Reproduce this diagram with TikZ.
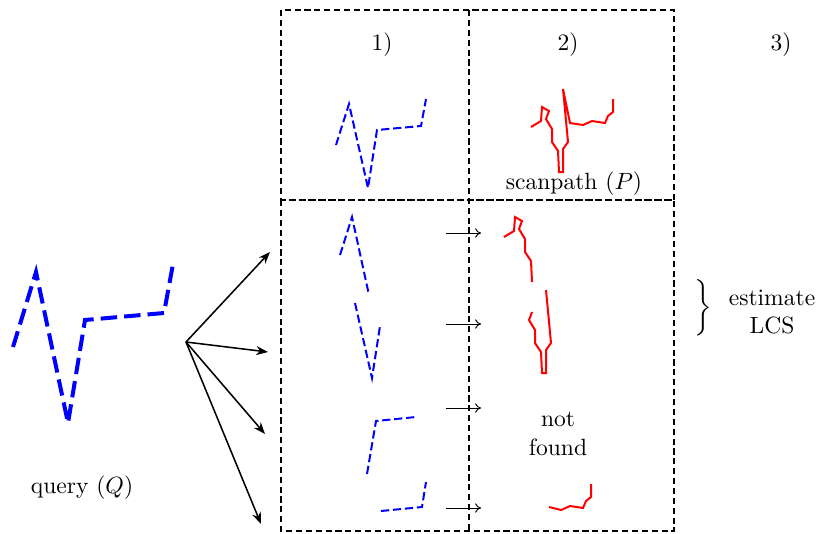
\documentclass[tikz,border=0pt]{standalone}
\usetikzlibrary{arrows.meta}
\begin{document}
\begin{tikzpicture}[x=0.425pt,y=-0.425pt,
  boxline/.style={draw=black,line width=0.85pt,dash pattern=on 2.6pt off 1.6pt},
  qbig/.style={draw=blue,line width=1.7pt,dash pattern=on 7pt off 3pt,line join=miter},
  qsmall/.style={draw=blue,line width=0.85pt,dash pattern=on 3.5pt off 1.6pt,line join=miter},
  scan/.style={draw=red,line width=0.85pt,line join=miter},
  bigarrow/.style={draw=black,line width=0.65pt,-{Stealth[length=5pt,width=3.8pt]}},
  smallarrow/.style={draw=black,line width=0.4pt,-{To[length=2.5pt,width=4pt]}},
  lbl/.style={inner sep=0pt,align=center}]
\useasboundingbox (0,0) rectangle (818,533);
% boxes
\draw[boxline] (281,10) rectangle (674,200);
\draw[boxline] (281,200) rectangle (674,531);
\draw[boxline] (469,10) -- (469,531);
% labels
\node[lbl] (l1) at (382,45) {1)};
\node[lbl] (l2) at (568,45) {2)};
\node[lbl] (l3) at (781,45) {3)};
\node[lbl] (scanlbl) at (574,184) {scanpath ($P$)};
\node[lbl] (querylbl) at (82,488) {query ($Q$)};
\node[lbl] (notfound) at (558,434) {not\\found};
\node[lbl] (brace) at (703,308) {$\bigg\}$};
\node[lbl] (lcs) at (772,312) {estimate\\LCS};
% big query
\draw[qbig] (13,347) -- (36,272) -- (68,423) -- (85,320) -- (164,313) -- (173,264);
% small query top
\draw[qsmall] (336,145) -- (349,104) -- (368,188) -- (377,130) -- (421,126) -- (426,99);
% query segments
\draw[qsmall] (340,255) -- (352,217) -- (369,295);
\draw[qsmall] (355,303) -- (372,378) -- (380,326);
\draw[qsmall] (367,474) -- (376,421) -- (416,417);
\draw[qsmall] (381,511) -- (422,507) -- (426,482);
% scanpath P
\draw[scan] (531,127) -- (541,121) -- (542,107) -- (549,111) -- (546,119) -- (552,129) -- (552,142) -- (558,151) -- (559,172) -- (563,172) -- (563,149) -- (568,142) -- (563,89) -- (570,123) -- (583,125) -- (592,121) -- (605,123) -- (608,116) -- (613,112) -- (613,99);
% found segments
\begin{scope}[shift={(-27,110)}]
\draw[scan] (531,127) -- (541,121) -- (542,107) -- (549,111) -- (546,119) -- (552,129) -- (552,142) -- (558,151) -- (559,172);
\end{scope}
\begin{scope}[shift={(-17,201)}]
\draw[scan] (549,111) -- (546,119) -- (552,129) -- (552,142) -- (558,151) -- (559,172) -- (563,172) -- (563,149) -- (568,142) -- (563,89);
\end{scope}
\begin{scope}[shift={(-22,385)}]
\draw[scan] (571,122) -- (583,125) -- (592,121) -- (605,123) -- (608,116) -- (613,112) -- (613,99);
\end{scope}
% big arrows
\coordinate (src) at (186,342);
\coordinate (t1) at (270,252);
\coordinate (t2) at (268,352);
\coordinate (t3) at (265,434);
\coordinate (t4) at (261,524);
\draw[bigarrow] (src) -- (t1);
\draw[bigarrow] (src) -- (t2);
\draw[bigarrow] (src) -- (t3);
\draw[bigarrow] (src) -- (t4);
% small arrows
\foreach \i/\y in {1/233,2/324,3/408,4/508}{
  \coordinate (s\i) at (446,\y);
  \coordinate (e\i) at (481,\y);
  \draw[smallarrow] (s\i) -- (e\i);
}
\end{tikzpicture}
\end{document}
